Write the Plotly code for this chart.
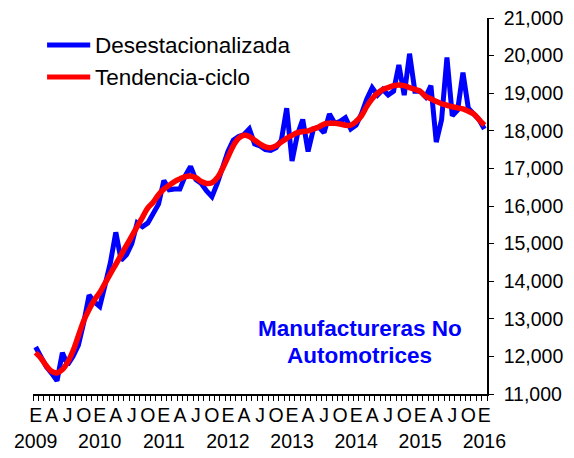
import plotly.graph_objects as go

# meses: enero 2009 (0) a enero 2016 (84)
meses = list(range(85))

desestacionalizada = [
    12250, 12000, 11720, 11550, 11350, 12100, 11780, 12000, 12300, 12900, 13630, 13450,
    13330, 13900, 14500, 15300, 14560, 14700, 15000, 15550, 15450, 15550, 15800, 16050,
    16680, 16430, 16450, 16450, 16800, 17050, 16700, 16600, 16400, 16250, 16600, 17000,
    17450, 17750, 17850, 17900, 18050, 17650, 17600, 17500, 17480, 17550, 17750, 18600,
    17200, 17900, 18300, 17450, 18050, 18100, 17950, 18450, 18200, 18250, 18350, 18050,
    18150, 18450, 18850, 19150, 18950, 19100, 18950, 19050, 19750, 18950, 20050, 19050,
    19050, 18900, 19200, 17700, 18300, 19950, 18400, 18550, 19550, 18600, 18450, 18300,
    18050,
]

tendencia_ciclo = [
    12100, 11950, 11750, 11600, 11560, 11650, 11850, 12150, 12550, 12950, 13250, 13500,
    13700, 13950, 14200, 14450, 14700, 14950, 15200, 15450, 15700, 15950, 16100, 16300,
    16450, 16550, 16650, 16720, 16780, 16800, 16750, 16650, 16600, 16620, 16750, 17000,
    17300, 17600, 17800, 17880, 17850, 17750, 17650, 17570, 17550, 17600, 17700, 17800,
    17880, 17950, 17980, 18000, 18050, 18100, 18180, 18200, 18200, 18180, 18150, 18150,
    18250, 18400, 18650, 18850, 19000, 19100, 19150, 19200, 19220, 19200, 19150, 19100,
    19050, 18920, 18850, 18780, 18720, 18680, 18640, 18610, 18580, 18520, 18450, 18300,
    18150,
]

letras_mes = ["E", "A", "J", "O"]
anios = ["2009", "2010", "2011", "2012", "2013", "2014", "2015", "2016"]

FONT = "Liberation Sans, Arial, sans-serif"

tick_vals = list(range(0, 85, 3))
tick_text = []
for v in tick_vals:
    letra = letras_mes[(v % 12) // 3]
    if v % 12 == 0:
        tick_text.append(f"{letra}<br>{anios[v // 12]}")
    else:
        tick_text.append(letra)

fig = go.Figure()
fig.add_trace(
    go.Scatter(
        x=meses,
        y=desestacionalizada,
        mode="lines",
        name="Desestacionalizada",
        line=dict(color="#0000FF", width=5),
    )
)
fig.add_trace(
    go.Scatter(
        x=meses,
        y=tendencia_ciclo,
        mode="lines",
        name="Tendencia-ciclo",
        line=dict(color="#FF0000", width=5.5, shape="spline"),
    )
)

# leyenda manual
leyenda = [("Desestacionalizada", "#0000FF", 0.928), ("Tendencia-ciclo", "#FF0000", 0.843)]
for texto, color, yy in leyenda:
    fig.add_shape(
        type="line", xref="paper", yref="paper",
        x0=0.031, x1=0.126, y0=yy, y1=yy,
        line=dict(color=color, width=5),
    )
    fig.add_annotation(
        xref="paper", yref="paper", x=0.132, y=yy,
        text=texto, showarrow=False, xanchor="left", yanchor="middle",
        font=dict(size=22.5, color="black", family=FONT),
    )

for texto, yy in [("Manufactureras No", 0.1755), ("Automotrices", 0.1037)]:
    fig.add_annotation(
        xref="paper", yref="paper", x=0.72, y=yy,
        text=f"<b>{texto}</b>",
        showarrow=False, xanchor="center", yanchor="middle",
        font=dict(size=22.5, color="#0000FF", family=FONT),
    )

# la página añade 8 px de margen al cuerpo: se compensa aquí
fig.update_layout(
    width=566,
    height=450,
    margin=dict(l=25, r=87, t=10, b=64),
    paper_bgcolor="white",
    plot_bgcolor="white",
    showlegend=False,
    font=dict(family=FONT, size=19.5, color="black"),
    xaxis=dict(
        range=[-0.5, 84.5],
        tickmode="array",
        tickvals=tick_vals,
        ticktext=tick_text,
        ticks="outside",
        ticklen=3,
        tickcolor="rgba(0,0,0,0)",
        showline=True,
        linecolor="black",
        linewidth=1.5,
        showgrid=False,
        zeroline=False,
        tickangle=0,
        automargin=False,
        ticklabeloverflow="allow",
        minor=dict(ticks="outside", ticklen=5, tick0=-0.5, dtick=1,
                   tickcolor="black", showgrid=False),
    ),
    yaxis=dict(
        side="right",
        range=[11000, 21000],
        dtick=1000,
        tickformat=",d",
        ticks="outside",
        ticklen=5,
        tickcolor="black",
        ticklabelstandoff=6,
        showline=True,
        linecolor="black",
        linewidth=1.5,
        showgrid=False,
        zeroline=False,
        automargin=False,
        ticklabeloverflow="allow",
    ),
)

fig.write_html("out.html")
